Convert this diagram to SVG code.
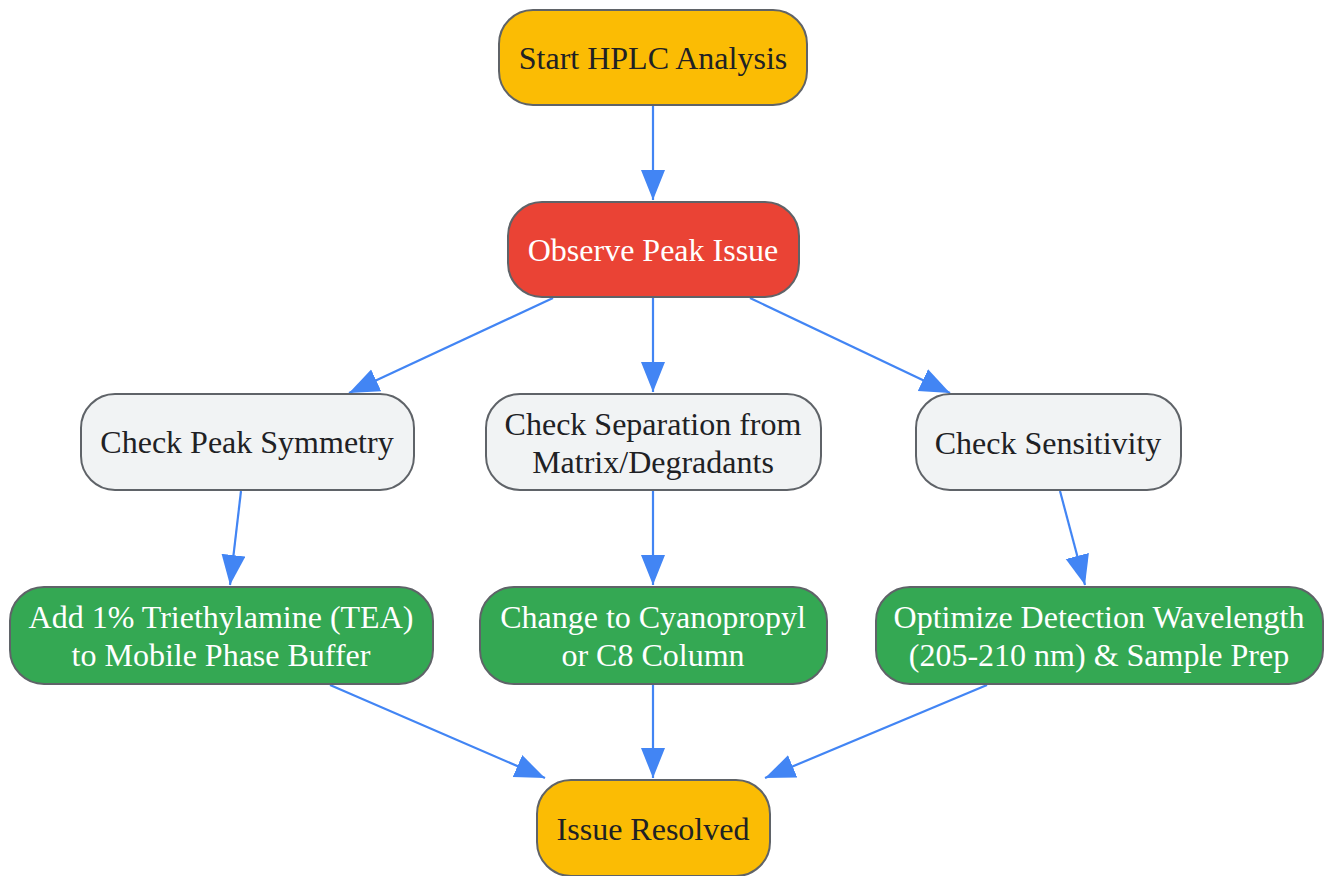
<svg xmlns="http://www.w3.org/2000/svg" width="1324" height="876" viewBox="0 0 1324 876">
<style>
.n{stroke:#5f6368;stroke-width:2}
.y{fill:#FBBC04}
.r{fill:#EA4335}
.g{fill:#F1F3F4}
.gr{fill:#34A853}
.t{font-family:"Liberation Serif","Times New Roman",serif;font-size:32px;text-anchor:middle}
.d{fill:#202124}
.w{fill:#ffffff}
.e{stroke:#4285F4;stroke-width:2.2;fill:none;marker-end:url(#a)}
</style>
<defs>
<marker id="a" markerUnits="userSpaceOnUse" markerWidth="32" markerHeight="26" refX="30" refY="12" orient="auto">
<path d="M0,0 L30,12 L0,24 Z" fill="#4285F4"/>
</marker>
</defs>
<rect width="1324" height="876" fill="#ffffff"/>
<g id="edges">
<line class="e" x1="653" y1="106" x2="653" y2="200"/>
<line class="e" x1="553" y1="298" x2="349" y2="393"/>
<line class="e" x1="653" y1="298" x2="653" y2="392"/>
<line class="e" x1="750" y1="298" x2="950" y2="393"/>
<line class="e" x1="241" y1="491" x2="230" y2="585"/>
<line class="e" x1="653" y1="491" x2="653" y2="585"/>
<line class="e" x1="1060" y1="491" x2="1085" y2="585"/>
<line class="e" x1="330" y1="685" x2="545" y2="778"/>
<line class="e" x1="653" y1="685" x2="653" y2="778"/>
<line class="e" x1="987" y1="685" x2="765" y2="778"/>
</g>
<g id="start">
<rect class="n y" x="499" y="10" width="308" height="95" rx="34"/>
<text class="t d" x="653" y="69">Start HPLC Analysis</text>
</g>
<g id="observe">
<rect class="n r" x="508" y="202" width="291" height="95" rx="34"/>
<text class="t w" x="653" y="261">Observe Peak Issue</text>
</g>
<g id="symmetry">
<rect class="n g" x="81" y="394" width="333" height="96" rx="34"/>
<text class="t d" x="247" y="453">Check Peak Symmetry</text>
</g>
<g id="separation">
<rect class="n g" x="486" y="394" width="335" height="96" rx="34"/>
<text class="t d" x="653" y="435">Check Separation from</text>
<text class="t d" x="653" y="473">Matrix/Degradants</text>
</g>
<g id="sensitivity">
<rect class="n g" x="916" y="394" width="265" height="96" rx="34"/>
<text class="t d" x="1048" y="454">Check Sensitivity</text>
</g>
<g id="tea">
<rect class="n gr" x="10" y="587" width="423" height="97" rx="34"/>
<text class="t w" x="221" y="628">Add 1% Triethylamine (TEA)</text>
<text class="t w" x="221" y="666">to Mobile Phase Buffer</text>
</g>
<g id="column">
<rect class="n gr" x="480" y="587" width="347" height="97" rx="34"/>
<text class="t w" x="653" y="628">Change to Cyanopropyl</text>
<text class="t w" x="653" y="666">or C8 Column</text>
</g>
<g id="optimize">
<rect class="n gr" x="876" y="587" width="447" height="97" rx="34"/>
<text class="t w" x="1099" y="628">Optimize Detection Wavelength</text>
<text class="t w" x="1099" y="666">(205-210 nm) &amp; Sample Prep</text>
</g>
<g id="resolved">
<rect class="n y" x="537" y="780" width="233" height="96" rx="34"/>
<text class="t d" x="653" y="840">Issue Resolved</text>
</g>
</svg>
